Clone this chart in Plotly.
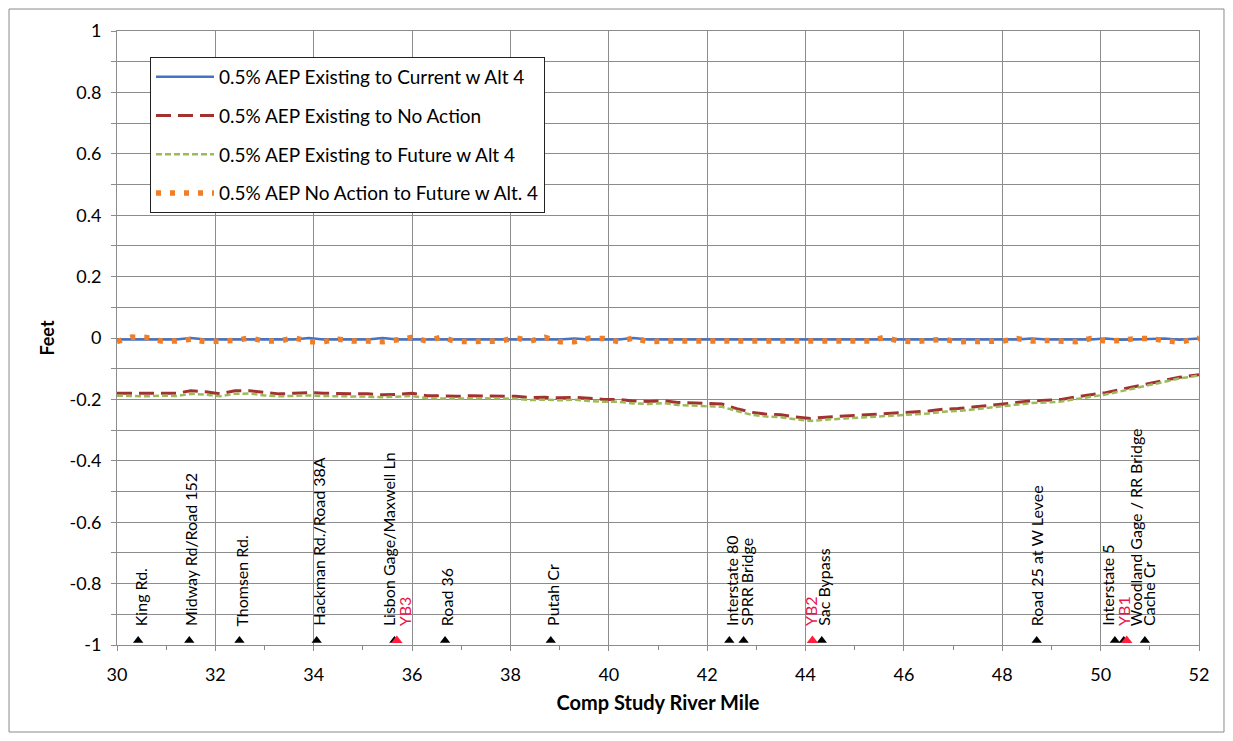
import plotly.graph_objects as go

# ---------------- data ----------------
river_mile = [30.0, 30.3, 30.6, 30.9, 31.2, 31.5, 31.8, 32.1, 32.4, 32.7,
              33.0, 33.3, 33.6, 33.9, 34.2, 34.5, 34.8, 35.1, 35.4, 35.7,
              36.0, 36.3, 36.6, 36.9, 37.2, 37.5, 37.8, 38.1, 38.4, 38.7,
              39.0, 39.3, 39.6, 39.9, 40.2, 40.5, 40.8, 41.1, 41.4, 41.7,
              42.0, 42.3, 42.6, 42.9, 43.2, 43.5, 43.8, 44.1, 44.4, 44.7,
              45.0, 45.3, 45.6, 45.9, 46.2, 46.5, 46.8, 47.1, 47.4, 47.7,
              48.0, 48.3, 48.6, 48.9, 49.2, 49.5, 49.8, 50.1, 50.4, 50.7,
              51.0, 51.3, 51.6, 52.0]

existing_to_current_alt4 = [-0.005, -0.005, -0.004, -0.006, -0.005, 0.000, -0.005, -0.005, -0.006, -0.005,
                            -0.004, -0.005, -0.005, 0.000, -0.005, -0.005, -0.006, -0.005, 0.000, -0.005,
                            -0.005, -0.005, -0.004, -0.005, -0.005, -0.005, -0.006, -0.005, -0.005, -0.004,
                            -0.005, -0.002, -0.005, -0.005, -0.005, 0.000, -0.005, -0.005, -0.005, -0.005,
                            -0.005, -0.005, -0.005, -0.005, -0.005, -0.005, -0.005, -0.005, -0.005, -0.005,
                            -0.005, -0.005, -0.005, -0.005, -0.005, -0.005, -0.005, -0.005, -0.005, -0.005,
                            -0.005, -0.005, -0.002, -0.005, -0.005, -0.005, -0.005, -0.002, -0.006, -0.005,
                            -0.004, -0.002, -0.006, -0.002]

existing_to_no_action = [-0.180, -0.180, -0.182, -0.180, -0.180, -0.172, -0.175, -0.182, -0.172, -0.172,
                         -0.178, -0.182, -0.180, -0.178, -0.180, -0.180, -0.182, -0.182, -0.185, -0.184,
                         -0.180, -0.188, -0.188, -0.190, -0.188, -0.188, -0.190, -0.190, -0.194, -0.193,
                         -0.195, -0.193, -0.196, -0.200, -0.200, -0.205, -0.207, -0.204, -0.210, -0.212,
                         -0.215, -0.215, -0.230, -0.242, -0.248, -0.250, -0.257, -0.262, -0.258, -0.255,
                         -0.252, -0.250, -0.246, -0.242, -0.240, -0.238, -0.232, -0.230, -0.225, -0.220,
                         -0.215, -0.208, -0.205, -0.203, -0.200, -0.192, -0.185, -0.178, -0.168, -0.158,
                         -0.148, -0.138, -0.128, -0.120]

existing_to_future_alt4 = [-0.188, -0.189, -0.190, -0.188, -0.189, -0.182, -0.184, -0.190, -0.182, -0.181,
                           -0.187, -0.190, -0.189, -0.187, -0.189, -0.189, -0.191, -0.191, -0.193, -0.192,
                           -0.189, -0.196, -0.197, -0.198, -0.196, -0.197, -0.199, -0.198, -0.202, -0.201,
                           -0.203, -0.201, -0.205, -0.208, -0.208, -0.213, -0.215, -0.212, -0.218, -0.220,
                           -0.223, -0.224, -0.238, -0.250, -0.256, -0.258, -0.265, -0.270, -0.266, -0.263,
                           -0.260, -0.258, -0.254, -0.250, -0.248, -0.246, -0.240, -0.238, -0.233, -0.228,
                           -0.222, -0.216, -0.212, -0.210, -0.207, -0.199, -0.192, -0.184, -0.174, -0.164,
                           -0.154, -0.143, -0.132, -0.122]

no_action_to_future_alt4 = [-0.012, 0.003, 0.002, -0.010, -0.010, -0.004, -0.012, -0.012, -0.008, 0.000,
                            -0.010, -0.010, 0.001, -0.012, -0.012, -0.004, -0.010, -0.010, -0.012, -0.006,
                            0.002, -0.010, 0.003, -0.012, -0.010, -0.012, -0.010, 0.001, -0.010, 0.002,
                            -0.012, -0.012, -0.001, -0.002, -0.012, 0.000, -0.012, -0.010, -0.012, -0.010,
                            -0.010, -0.010, -0.010, -0.010, -0.010, -0.010, -0.010, -0.010, -0.010, -0.010,
                            -0.010, -0.010, 0.002, -0.010, -0.012, -0.010, -0.004, -0.012, -0.010, -0.010,
                            -0.010, -0.002, -0.010, -0.008, -0.012, -0.012, -0.002, -0.010, -0.008, -0.002,
                            -0.002, -0.006, -0.014, -0.001]

series_names = ["0.5% AEP Existing to Current w Alt 4",
                "0.5% AEP Existing to No Action",
                "0.5% AEP Existing to Future w Alt 4",
                "0.5% AEP No Action to Future w Alt. 4"]

# landmarks (triangles on the -1 line)
black_mark_miles = [30.43, 31.47, 32.49, 34.06, 35.64, 36.67, 38.82, 42.45, 42.74, 44.33,
                    48.70, 50.29, 50.47, 50.90]
red_mark_miles = [35.69, 44.14, 50.53]

label_texts = ["King Rd.", "Midway Rd/Road 152", "Thomsen Rd.", "Hackman Rd./Road 38A",
               "Lisbon Gage/Maxwell Ln", "YB3", "Road 36", "Putah Cr", "Interstate 80",
               "SPRR Bridge", "YB2", "Sac Bypass", "Road 25 at W Levee", "Interstate 5",
               "YB1", "Woodland Gage / RR Bridge", "Cache Cr"]
label_miles = [30.47, 31.49, 32.54, 34.09, 35.51, 35.84, 36.69, 38.84, 42.48,
               42.80, 44.09, 44.36, 48.70, 50.15, 50.45, 50.70, 50.96]
label_is_red = [False, False, False, False, False, True, False, False, False,
                False, True, False, False, False, True, False, False]

y_tick_vals = [1, 0.8, 0.6, 0.4, 0.2, 0, -0.2, -0.4, -0.6, -0.8, -1]
y_tick_text = ["1", "0.8", "0.6", "0.4", "0.2", "0", "-0.2", "-0.4", "-0.6", "-0.8", "-1"]
x_tick_vals = [30, 32, 34, 36, 38, 40, 42, 44, 46, 48, 50, 52]

# ---------------- figure ----------------
FONT = "Lato"
RED_LABEL = "#E8174B"
GRID = "#8c8c8c"

fig = go.Figure()

fig.add_trace(go.Scatter(x=river_mile, y=existing_to_current_alt4, mode="lines",
                         name=series_names[0], legendgroup="a",
                         line=dict(color="#4472C4", width=2.5)))
fig.add_trace(go.Scatter(x=river_mile, y=existing_to_no_action, mode="lines",
                         name=series_names[1], legendgroup="b",
                         line=dict(color="#A3312F", width=3, dash="15px,7px")))
fig.add_trace(go.Scatter(x=river_mile, y=existing_to_future_alt4, mode="lines",
                         name=series_names[2], legendgroup="c",
                         line=dict(color="#9BBB59", width=2.5, dash="6px,3px")))
fig.add_trace(go.Scatter(x=river_mile, y=no_action_to_future_alt4, mode="lines",
                         name=series_names[3], legendgroup="d",
                         line=dict(color="#F07E26", width=5.5, dash="5px,9px")))

# landmark triangles
fig.add_trace(go.Scatter(x=black_mark_miles, y=[-0.985] * len(black_mark_miles),
                         mode="markers", showlegend=False, cliponaxis=False,
                         marker=dict(symbol="triangle-up", size=9, color="black")))
fig.add_trace(go.Scatter(x=red_mark_miles, y=[-0.985] * len(red_mark_miles),
                         mode="markers", showlegend=False, cliponaxis=False,
                         marker=dict(symbol="triangle-up", size=10, color="#FF1F3D")))

for txt, xm, red in zip(label_texts, label_miles, label_is_red):
    fig.add_annotation(x=xm, y=-0.945, xref="x", yref="y", text=txt, showarrow=False,
                       textangle=-90, xanchor="center", yanchor="bottom",
                       font=dict(family=FONT, size=16, color=RED_LABEL if red else "black"))

# outer chart border
fig.add_shape(type="rect", xref="paper", yref="paper",
              x0=-0.0998, x1=1.0231, y0=-0.1417, y1=1.0358,
              line=dict(color="#8a8a8a", width=1), fillcolor="rgba(0,0,0,0)")

fig.update_layout(
    width=1217, height=725,
    margin=dict(l=109, r=26, t=23, b=88),
    paper_bgcolor="white", plot_bgcolor="white",
    font=dict(family=FONT, size=18, color="black"),
    legend=dict(x=0.0305, y=0.9577, xanchor="left", yanchor="top",
                bgcolor="white", bordercolor="#222222", borderwidth=1,
                font=dict(family=FONT, size=19, color="black"),
                itemwidth=58, tracegroupgap=11, traceorder="grouped"),
    xaxis=dict(range=[30, 52], tickvals=x_tick_vals, showgrid=True, gridcolor=GRID,
               gridwidth=1, showline=True, linecolor=GRID, linewidth=1, mirror=True,
               ticks="outside", ticklen=5, tickcolor=GRID, zeroline=False,
               ticklabelstandoff=8,
               minor=dict(dtick=1, ticks="outside", ticklen=4, tickcolor=GRID, showgrid=False),
               tickfont=dict(family=FONT, size=18),
               title=dict(text="<b>Comp Study River Mile</b>", standoff=12,
                          font=dict(family=FONT, size=20))),
    yaxis=dict(range=[-1, 1], tickvals=y_tick_vals, ticktext=y_tick_text,
               showgrid=True, gridcolor=GRID, gridwidth=1, zeroline=False,
               showline=True, linecolor=GRID, linewidth=1, mirror=True,
               ticks="outside", ticklen=5, tickcolor=GRID, ticklabelstandoff=6,
               minor=dict(dtick=0.1, showgrid=True, gridcolor=GRID, gridwidth=1,
                          ticks="outside", ticklen=5, tickcolor=GRID),
               tickfont=dict(family=FONT, size=18),
               title=dict(text="<b>Feet</b>", standoff=10,
                          font=dict(family=FONT, size=18))),
)

fig.write_html("out.html")
